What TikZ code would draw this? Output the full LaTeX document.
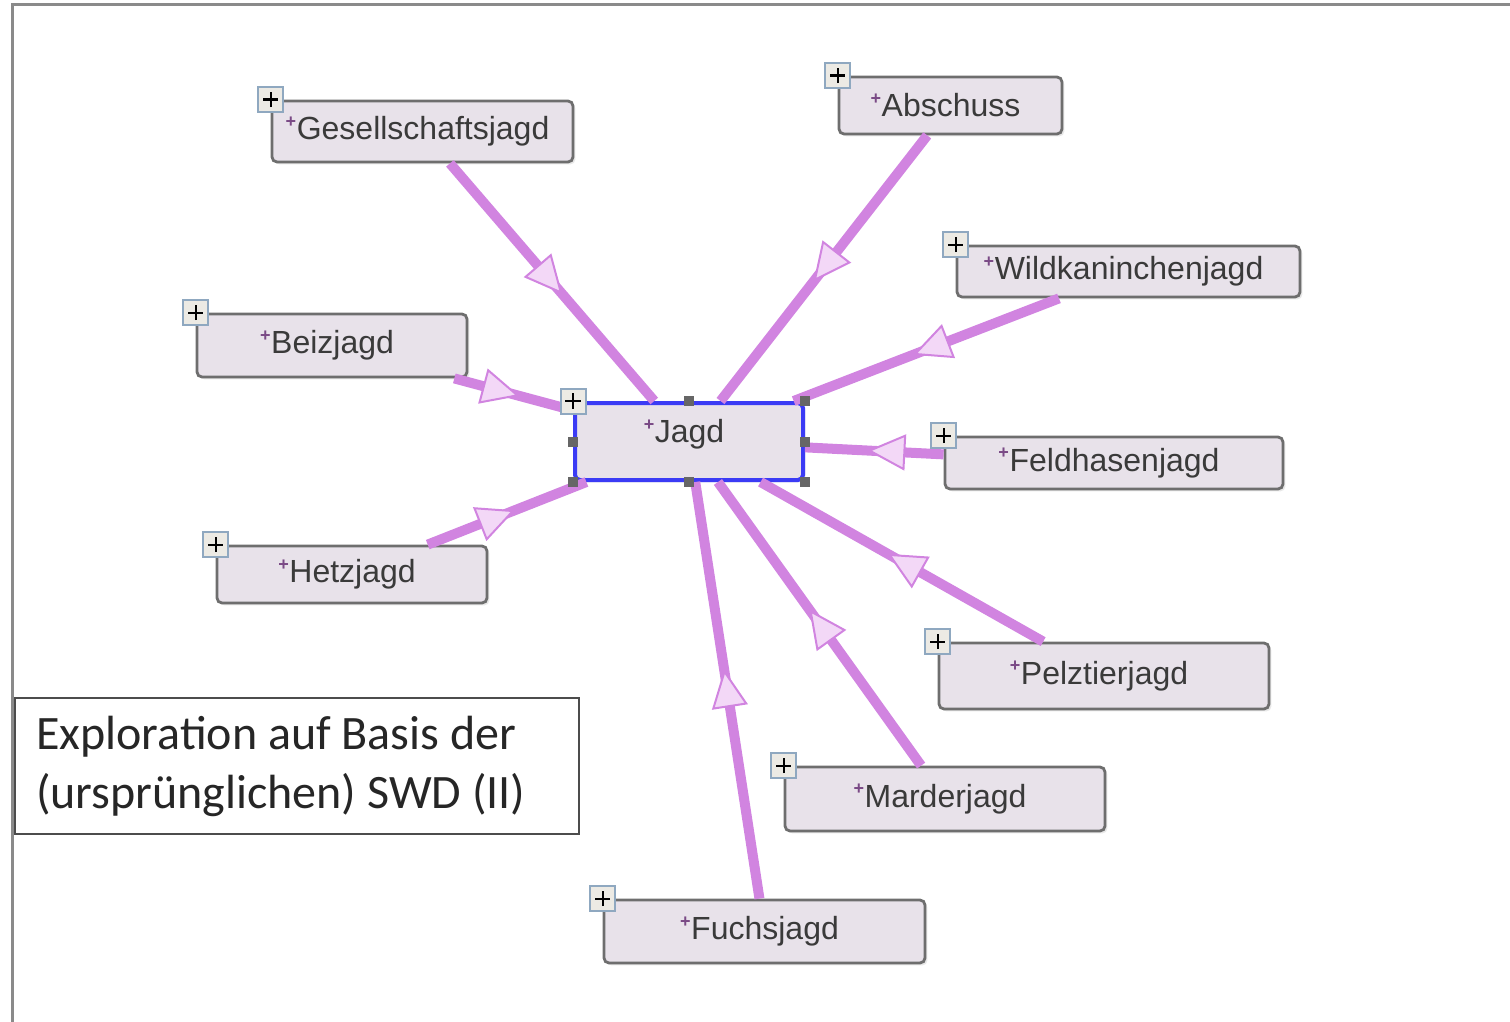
\documentclass[tikz,border=0pt]{standalone}
\usepackage{fontspec}
\setmainfont{Liberation Sans}
\newfontfamily\capfont{Carlito}
\usetikzlibrary{arrows.meta,decorations.markings,shadows}
\definecolor{edgepink}{HTML}{D184E0}
\definecolor{arrowfill}{HTML}{F3D8F7}
\definecolor{nodefill}{HTML}{E8E2EA}
\definecolor{nodegray}{HTML}{6E6E6E}
\definecolor{textgray}{HTML}{3A3A3A}
\definecolor{bulpurple}{HTML}{7A4A86}
\definecolor{jagdblue}{HTML}{3B3BF5}
\definecolor{plusblue}{HTML}{8FA8C0}
\definecolor{plusfill}{HTML}{ECEAE4}
\definecolor{framegray}{HTML}{8A8A8A}
\newcommand\bul{\textcolor{bulpurple}{\raisebox{0.75ex}{\fontsize{9}{9}\selectfont\bfseries+}}\hspace{0.3pt}}

\begin{document}
\begin{tikzpicture}[x=0.5pt,y=-0.5pt,
  hnode/.style={draw=nodegray, line width=1.4pt, fill=nodefill, rounded corners=2.5pt,
    inner sep=0pt, text=textgray, font=\fontsize{16}{16}\selectfont,
    drop shadow={shadow xshift=1.2pt, shadow yshift=-1.2pt, fill=black!15, opacity=0.6}},
  jagdnode/.style={hnode, draw=jagdblue, line width=2pt, text height=8pt, text depth=6.6pt},
  plusbox/.style={draw=plusblue, fill=plusfill, line width=1pt, minimum size=12.5pt, inner sep=0pt,
    path picture={\draw[black, line width=1.1pt]
      ([xshift=-3.8pt]path picture bounding box.center) -- ([xshift=3.8pt]path picture bounding box.center)
      ([yshift=-3.8pt]path picture bounding box.center) -- ([yshift=3.8pt]path picture bounding box.center);}},
  handle/.style={fill=black!60, minimum size=5pt, inner sep=0pt},
  edge/.style={draw=edgepink, line width=5pt,
    postaction={decorate, decoration={markings, mark=at position 0.55 with
      {\arrow{Triangle[length=19pt, width=18pt, fill=arrowfill, line width=1pt]}}}}},
  capbox/.style={draw=black!70, line width=1pt, fill=white, inner xsep=10.5pt, inner ysep=0pt,
    text width=261pt, align=left, text=black!85,
    font=\capfont\fontsize{24}{29.5}\selectfont}
]
  \useasboundingbox (0,0) rectangle (1510,1022);

  % outer frame
  \draw[framegray, line width=1.5pt] (12,1022) -- (12,5) -- (1510,5);

  % term nodes around the centre
  \foreach \nm/\cx/\cy/\w/\h/\txt in {
      gesell/422.5/131.5/301/61/Gesellschaftsjagd,
      abschuss/950.5/105.5/223/57/Abschuss,
      wildk/1128.5/271.5/343/51/Wildkaninchenjagd,
      beiz/332/345.5/270/63/Beizjagd,
      feldh/1114/463/338/52/Feldhasenjagd,
      hetz/352/574.5/270/57/Hetzjagd,
      pelz/1104/676/330/66/Pelztierjagd,
      marder/945/799/320/64/Marderjagd,
      fuchs/764.5/931.5/321/63/Fuchsjagd} {
    \node[hnode, minimum width=\w*0.5pt, minimum height=\h*0.5pt] (\nm) at (\cx,\cy) {\bul\txt\hspace*{5pt}};
  }

  % centre node
  \node[jagdnode, minimum width=114pt, minimum height=38.5pt] (jagd) at (689,441.5) {\bul Jagd\hspace*{5pt}};

  % connectors towards Jagd
  \foreach \nm in {gesell,abschuss,wildk,beiz,feldh,hetz,pelz,marder,fuchs} {
    \draw[edge] (\nm) -- (jagd);
  }

  % selection handles
  \foreach \a in {north west,north,north east,west,east,south west,south,south east} {
    \node[handle] at (jagd.\a) {};
  }

  % expand buttons
  \foreach \nm in {gesell,abschuss,wildk,beiz,jagd,feldh,hetz,pelz,marder,fuchs} {
    \node[plusbox] (p\nm) at (\nm.north west) {};
  }

  % caption
  \node[capbox, anchor=north west, minimum height=68pt] (caption) at (14,697)
    {\spaceskip=5.4pt\relax Exploration auf Basis der\\(ursprünglichen) SWD (II)};

\end{tikzpicture}
\end{document}
